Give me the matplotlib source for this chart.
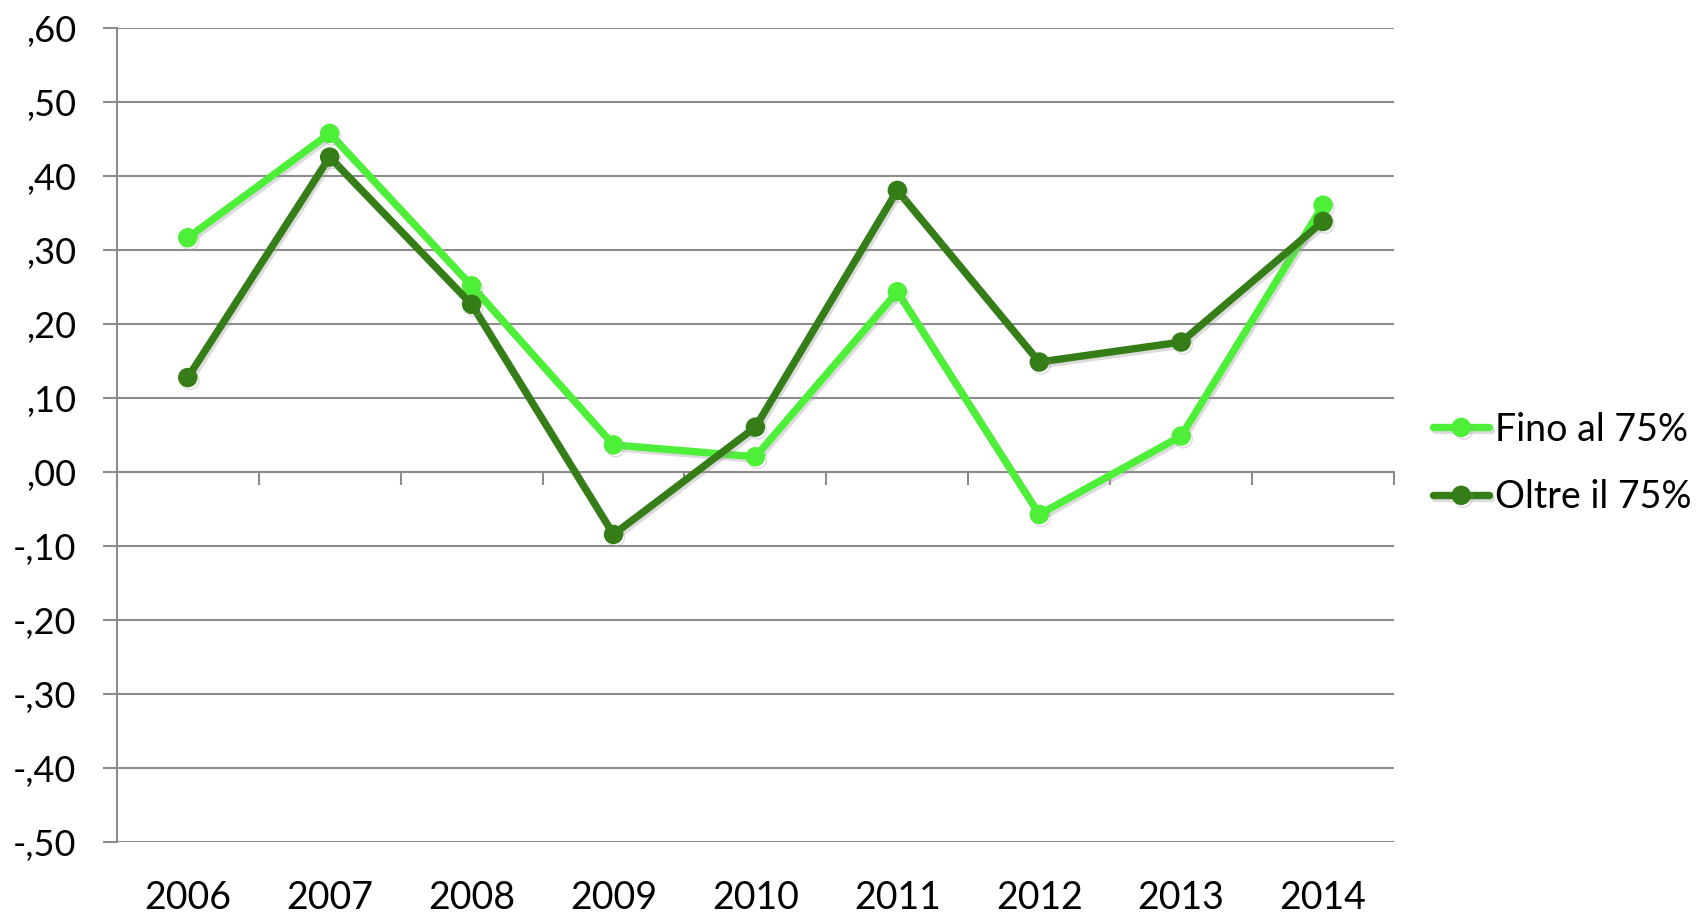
import matplotlib
matplotlib.use("Agg")
import matplotlib.pyplot as plt
import matplotlib.patheffects as pe
from matplotlib.transforms import blended_transform_factory

plt.rcParams['font.family'] = ['Lato', 'DejaVu Sans']

years = ['2006', '2007', '2008', '2009', '2010', '2011', '2012', '2013', '2014']
fino = [0.317, 0.458, 0.252, 0.037, 0.021, 0.244, -0.057, 0.049, 0.361]
oltre = [0.128, 0.426, 0.227, -0.084, 0.061, 0.381, 0.149, 0.176, 0.339]
series_names = ['Fino al 75%', 'Oltre il 75%']
yticks = [-0.5, -0.4, -0.3, -0.2, -0.1, 0.0, 0.1, 0.2, 0.3, 0.4, 0.5, 0.6]

light = '#4DEF38'
dark = '#347D17'
grid_col = '#8C8C8C'

fig = plt.figure(figsize=(16.98, 9.16), dpi=100)
ax = fig.add_axes([0.0688, 0.0805, 0.7522, 0.8886])

x = list(range(len(years)))
shadow = [pe.SimpleLineShadow(offset=(1.5, -2), shadow_color='0.6', alpha=0.35), pe.Normal()]
ax.plot(x, fino, color=light, lw=5.3, marker='o', ms=13, label=series_names[0],
        solid_capstyle='round', path_effects=shadow, zorder=3)
ax.plot(x, oltre, color=dark, lw=5.3, marker='o', ms=13, label=series_names[1],
        solid_capstyle='round', path_effects=shadow, zorder=4)

ax.set_xlim(-0.5, len(years) - 0.5)
ax.set_ylim(-0.5, 0.6)

def fmt(v):
    s = '%.2f' % v
    s = s.replace('0.', '.').replace('.', ',')
    return s

ax.set_yticks(yticks)
ax.set_yticklabels([fmt(v) for v in yticks])
ax.yaxis.grid(True, color=grid_col, lw=1.5)
ax.set_axisbelow(True)
ax.tick_params(axis='y', length=10, width=1.5, color=grid_col, pad=19, labelsize=26)

ax.spines['top'].set_visible(False)
ax.spines['right'].set_visible(False)
ax.spines['left'].set_color(grid_col)
ax.spines['left'].set_linewidth(1.5)
ax.spines['bottom'].set_position(('data', 0))
ax.spines['bottom'].set_color(grid_col)
ax.spines['bottom'].set_linewidth(1.5)

ax.set_xticks([i - 0.5 for i in range(len(years) + 1)])
ax.set_xticklabels([])
ax.tick_params(axis='x', length=9, width=1.5, color=grid_col, direction='out')

trans = blended_transform_factory(ax.transData, ax.transAxes)
for i, yr in enumerate(years):
    ax.text(i, -0.068, yr, transform=trans, ha='center', va='center', fontsize=27)

leg = ax.legend(loc='center left', bbox_to_anchor=(0.844, 0.494), bbox_transform=fig.transFigure,
                frameon=False, fontsize=27, handlelength=1.5, handletextpad=0.15,
                labelspacing=0.85, borderpad=0, borderaxespad=0)

fig.savefig('out.png', dpi=100)
